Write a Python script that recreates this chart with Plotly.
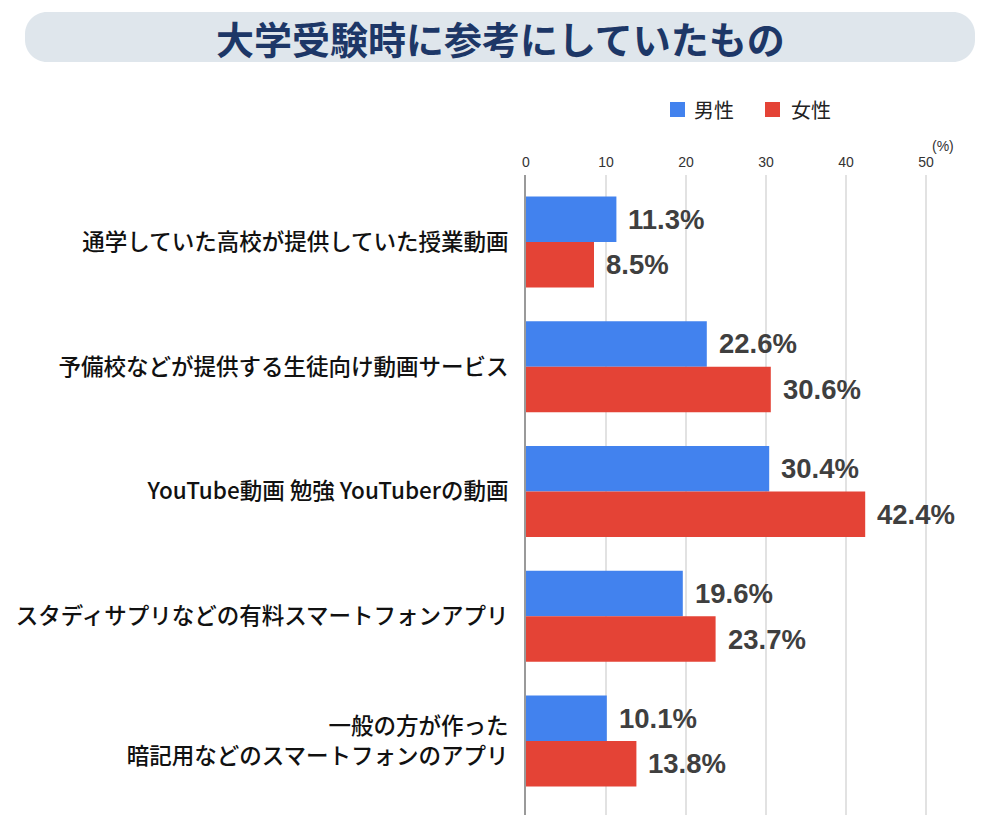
import plotly.graph_objects as go

categories = [
    "通学していた高校が提供していた授業動画",
    "予備校などが提供する生徒向け動画サービス",
    "YouTube動画 勉強 YouTuberの動画",
    "スタディサプリなどの有料スマートフォンアプリ",
    "一般の方が作った<br>暗記用などのスマートフォンのアプリ",
]
male = [11.3, 22.6, 30.4, 19.6, 10.1]
female = [8.5, 30.6, 42.4, 23.7, 13.8]
x_ticks = [0, 10, 20, 30, 40, 50]
series_names = ["男性", "女性"]
title_text = "大学受験時に参考にしていたもの"

W, H = 1000, 829
L, R, T, B = 526, 30, 175, 14
PW, PH = W - L - R, H - T - B

BLUE = "#4282EE"
RED = "#E44336"
colors = [BLUE, RED]

fig = go.Figure()
for name, vals, col in zip(series_names, (male, female), colors):
    fig.add_trace(go.Bar(y=categories, x=vals, orientation="h", name=name,
                         marker=dict(color=col, line=dict(width=0))))

def px2paper(px, py):
    return (px - L) / PW, (H - B - py) / PH

annotations = []
shapes = []
bar_px = 124.75 * 0.73 / 2
for vals, shift in ((male, bar_px / 2), (female, -bar_px / 2)):
    for c, v in zip(categories, vals):
        annotations.append(dict(
            x=v, y=c, xref="x", yref="y", text=f"{v:.1f}%", showarrow=False,
            xanchor="left", yanchor="middle", xshift=10, yshift=shift,
            font=dict(family="Liberation Sans, Arial", size=27.5, color="#3f3f3f", weight="bold"),
        ))

# (%) label
ax, ay = px2paper(943, 146)
annotations.append(dict(x=ax, y=ay, xref="paper", yref="paper", text="(%)", showarrow=False,
                        xanchor="center", yanchor="middle",
                        font=dict(family="Liberation Sans, Arial", size=14, color="#333333")))
# title
tx, ty = px2paper(500, 37)
annotations.append(dict(x=tx, y=ty, xref="paper", yref="paper", text=title_text, showarrow=False,
                        xanchor="center", yanchor="middle",
                        font=dict(family="Noto Sans CJK JP", size=38, color="#1d3767", weight="bold")))

# manual legend
for name, col, sx, tx_ in zip(series_names, colors, (670, 765), (692, 789)):
    a0, b0 = px2paper(sx, 117)
    a1, b1 = px2paper(sx + 15, 102)
    shapes.append(dict(type="rect", xref="paper", yref="paper", x0=a0, y0=b0, x1=a1, y1=b1,
                       fillcolor=col, line=dict(width=0)))
    la, lb = px2paper(tx_, 109.5)
    annotations.append(dict(x=la, y=lb, xref="paper", yref="paper", text=name, showarrow=False,
                            xanchor="left", yanchor="middle",
                            font=dict(family="Noto Sans CJK JP", size=20, color="#222222")))

# rounded title box path
x0, y0, x1, y1, r = 25, 12, 975, 62, 22
def P(px, py):
    a, b = px2paper(px, py)
    return f"{a:.6f},{b:.6f}"
k = 0.5523 * r
path = (f"M {P(x0 + r, y0)} L {P(x1 - r, y0)} "
        f"C {P(x1 - r + k, y0)} {P(x1, y0 + r - k)} {P(x1, y0 + r)} "
        f"L {P(x1, y1 - r)} "
        f"C {P(x1, y1 - r + k)} {P(x1 - r + k, y1)} {P(x1 - r, y1)} "
        f"L {P(x0 + r, y1)} "
        f"C {P(x0 + r - k, y1)} {P(x0, y1 - r + k)} {P(x0, y1 - r)} "
        f"L {P(x0, y0 + r)} "
        f"C {P(x0, y0 + r - k)} {P(x0 + r - k, y0)} {P(x0 + r, y0)} Z")
shapes.insert(0, dict(type="path", path=path, xref="paper", yref="paper",
                      fillcolor="#dfe6ec", line=dict(width=0), layer="below"))

fig.update_layout(
    width=W, height=H,
    margin=dict(l=L, r=R, t=T, b=B),
    paper_bgcolor="white", plot_bgcolor="white",
    barmode="group", bargap=0.27, bargroupgap=0,
    annotations=annotations,
    shapes=shapes,
    showlegend=False,
    font=dict(family="Noto Sans CJK JP"),
)
fig.update_xaxes(side="top", range=[0, PW / 8], tickvals=x_ticks,
                 showgrid=True, gridcolor="#e2e2e2", gridwidth=1.5,
                 zeroline=False, showline=False, ticks="",
                 ticklabelstandoff=4,
                 tickfont=dict(family="Liberation Sans, Arial", size=14, color="#333333"))
fig.update_yaxes(type="category", range=[4.593, -0.537], showgrid=False,
                 showline=True, linecolor="#9a9a9a", linewidth=2, ticks="",
                 ticklabelstandoff=11,
                 tickfont=dict(family="Noto Sans CJK JP", size=22.5, color="#111111", weight=500))

fig.write_html("out.html")
